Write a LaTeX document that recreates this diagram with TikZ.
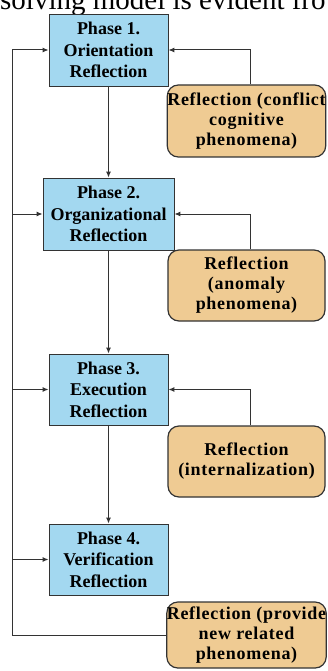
\documentclass[tikz,border=0pt]{standalone}
\usepackage{fontspec}
\setmainfont{Liberation Serif}
\newfontfamily\reflectfont{Liberation Serif}[LetterSpace=4]
\usetikzlibrary{arrows.meta}
\definecolor{phaseblue}{HTML}{A3D8F0}
\definecolor{reflecttan}{HTML}{EFCB93}
\definecolor{edgegray}{HTML}{333333}
\begin{document}
\begin{tikzpicture}[x=1pt,y=-1pt,
  phasebox/.style={draw=edgegray, line width=0.9pt, fill=phaseblue,
    minimum width=119pt, minimum height=72pt, align=center,
    font=\bfseries\fontsize{18}{21.5}\selectfont, inner sep=0pt},
  reflectbox/.style={draw=edgegray, line width=1.2pt, fill=reflecttan,
    rounded corners=11pt, minimum width=157pt, minimum height=71pt,
    align=center, font=\reflectfont\bfseries\fontsize{18}{20}\selectfont,
    inner sep=0pt},
  link/.style={draw=edgegray, line width=1pt},
  arr/.style={link, -{Latex[length=6pt,width=5pt]}}]
\useasboundingbox (0,0) rectangle (327,671);
\fill[white] (0,0) rectangle (327,671);

% running text line above the figure
\node[anchor=base west, inner sep=0pt, font=\fontsize{29}{30}\selectfont]
  (caption) at (0,10) {solving model is evident fro};

% phases
\node[phasebox] (p1) at (108.5,50) {Phase 1.\\Orientation\\Reflection};
\node[phasebox, minimum width=131pt] (p2) at (108.5,214) {Phase 2.\\Organizational\\Reflection};
\node[phasebox, minimum height=71pt] (p3) at (108.5,389.5) {Phase 3.\\Execution\\Reflection};
\node[phasebox, minimum height=71pt] (p4) at (108.5,559.5) {Phase 4.\\Verification\\Reflection};

% reflections
\node[reflectbox, minimum height=72pt] (o1) at (246.5,121) {Reflection (conflict\\cognitive\\phenomena)};
\node[reflectbox] (o2) at (246.5,285.5) {Reflection\\(anomaly\\phenomena)};
\node[reflectbox] (o3) at (246.5,461.5) {Reflection\\(internalization)};
\node[reflectbox, minimum height=66pt] (o4) at (246.5,635) {Reflection (provide\\new related\\phenomena)};

% rails
\coordinate (lx) at (12,0);
\coordinate (rx) at (250,0);

% main sequence
\draw[arr] (p1.south) -- (p2.north);
\draw[arr] (p2.south) -- (p3.north);
\draw[arr] (p3.south) -- (p4.north);

% feedback from each reflection
\draw[arr] (o1.north -| rx) |- (p1.east);
\draw[arr] (o2.north -| rx) |- (p2.east);
\draw[arr] (o3.north -| rx) |- (p3.east);

% outer loop
\draw[link] (o4.west) -- (o4.west -| lx) -- (lx |- p1.west);
\draw[arr] (lx |- p1.west) -- (p1.west);
\draw[arr] (lx |- p2.west) -- (p2.west);
\draw[arr] (lx |- p3.west) -- (p3.west);
\draw[arr] (lx |- p4.west) -- (p4.west);
\end{tikzpicture}
\end{document}
